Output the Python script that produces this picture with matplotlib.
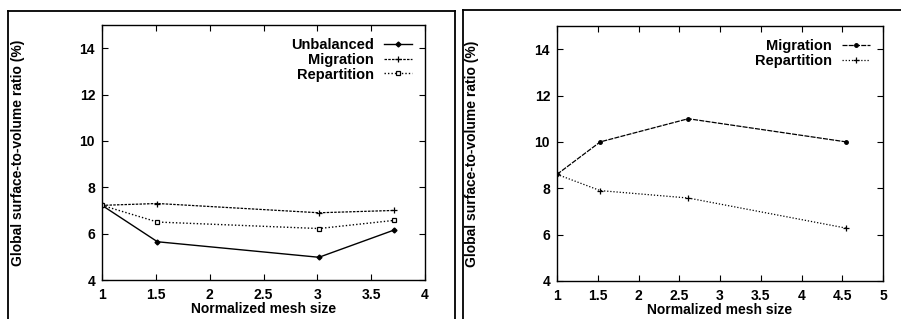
import matplotlib
matplotlib.use("Agg")
import matplotlib.pyplot as plt
from matplotlib.lines import Line2D

plt.rcParams['font.family'] = ['Liberation Sans', 'DejaVu Sans']
plt.rcParams['font.weight'] = 'bold'

# Left panel data
left_x_unbal = [1.0, 1.515, 3.015, 3.71]
left_unbalanced = [7.22, 5.65, 4.98, 6.15]
left_x_mig = [1.0, 1.515, 3.015, 3.71]
left_migration = [7.22, 7.3, 6.9, 7.0]
left_x_rep = [1.0, 1.515, 3.015, 3.71]
left_repartition = [7.22, 6.5, 6.22, 6.57]
left_xticks = [1, 1.5, 2, 2.5, 3, 3.5, 4]
left_xticklabels = ['1', '1.5', '2', '2.5', '3', '3.5', '4']

# Right panel data
right_x = [1.0, 1.53, 2.61, 4.55]
right_migration = [8.6, 10.0, 11.0, 10.0]
right_repartition = [8.6, 7.9, 7.58, 6.28]
right_xticks = [1, 1.5, 2, 2.5, 3, 3.5, 4, 4.5, 5]
right_xticklabels = ['1', '1.5', '2', '2.5', '3', '3.5', '4', '4.5', '5']

yticks = [4, 6, 8, 10, 12, 14]
yticklabels = ['4', '6', '8', '10', '12', '14']

xlabel = 'Normalized mesh size'
ylabel = 'Global surface-to-volume ratio (%)'

W, H = 901, 319
fig = plt.figure(figsize=(W / 100, H / 100), dpi=100)
fig.patch.set_facecolor('white')

def px_axes(x0, x1, ytop, ybot):
    return fig.add_axes([x0 / W, 1 - ybot / H, (x1 - x0) / W, (ybot - ytop) / H])

axL = px_axes(102, 425, 25, 280)
axR = px_axes(557, 883, 26, 281)

def style(ax, xlim, xticks, xticklabels):
    ax.set_xlim(*xlim)
    ax.set_ylim(4, 15)
    ax.set_xticks(xticks)
    ax.set_xticklabels(xticklabels)
    ax.set_yticks(yticks)
    ax.set_yticklabels(yticklabels)
    ax.tick_params(direction='in', length=4, width=0.8, top=True, right=True,
                   labelsize=10, colors='black')
    ax.tick_params(axis='x', pad=6)
    ax.tick_params(axis='y', pad=5)
    for t in ax.get_xticklabels() + ax.get_yticklabels():
        t.set_fontweight('bold')
    for s in ax.spines.values():
        s.set_linewidth(1.0)
    ax.set_xlabel(xlabel, fontsize=10, fontweight='bold')
    ax.set_ylabel(ylabel, fontsize=10, fontweight='bold')
    ax.xaxis.set_label_coords(0.5, -0.085)

style(axL, (1, 4), left_xticks, left_xticklabels)
style(axR, (1, 5), right_xticks, right_xticklabels)
axL.yaxis.set_label_coords(-0.238, 0.5)
axR.yaxis.set_label_coords(-0.239, 0.5)

# Left plot lines
axL.plot(left_x_unbal, left_unbalanced, color='black', lw=1.0, ls='-',
         marker='D', ms=2.5, label='Unbalanced')
axL.plot(left_x_mig, left_migration, color='black', lw=0.9, ls=(0, (2, 1)),
         marker='+', ms=4, mew=0.9, label='Migration')
axL.plot(left_x_rep, left_repartition, color='black', lw=1.0, ls=(0, (1, 1.5)),
         marker='s', ms=3.3, mfc='white', mew=0.9, label='Repartition')

# Right plot lines
axR.plot(right_x, right_migration, color='black', lw=0.9, ls=(0, (4, 1)),
         marker='o', ms=2.5, label='Migration')
axR.plot(right_x, right_repartition, color='black', lw=0.9, ls=(0, (1, 1.5)),
         marker='+', ms=4, mew=0.9, label='Repartition')

for ax in (axL, axR):
    ax.legend(loc='upper right', frameon=False, markerfirst=False,
              handlelength=1.9, handletextpad=0.7,
              labelspacing=0.05, borderaxespad=0.5,
              prop={'weight': 'bold', 'size': 10.5})

# Panel frames (figure borders)
def fline(xs, ys, lw=1.3):
    fig.add_artist(Line2D([x / W for x in xs], [1 - y / H for y in ys],
                          color='black', lw=lw, transform=fig.transFigure))

fline([8, 455], [11, 11])
fline([8, 8], [11, 319])
fline([455, 455], [11, 319])
fline([463, 901], [10, 10])
fline([463, 463], [10, 319])

fig.savefig('out.png', dpi=100, facecolor='white')
